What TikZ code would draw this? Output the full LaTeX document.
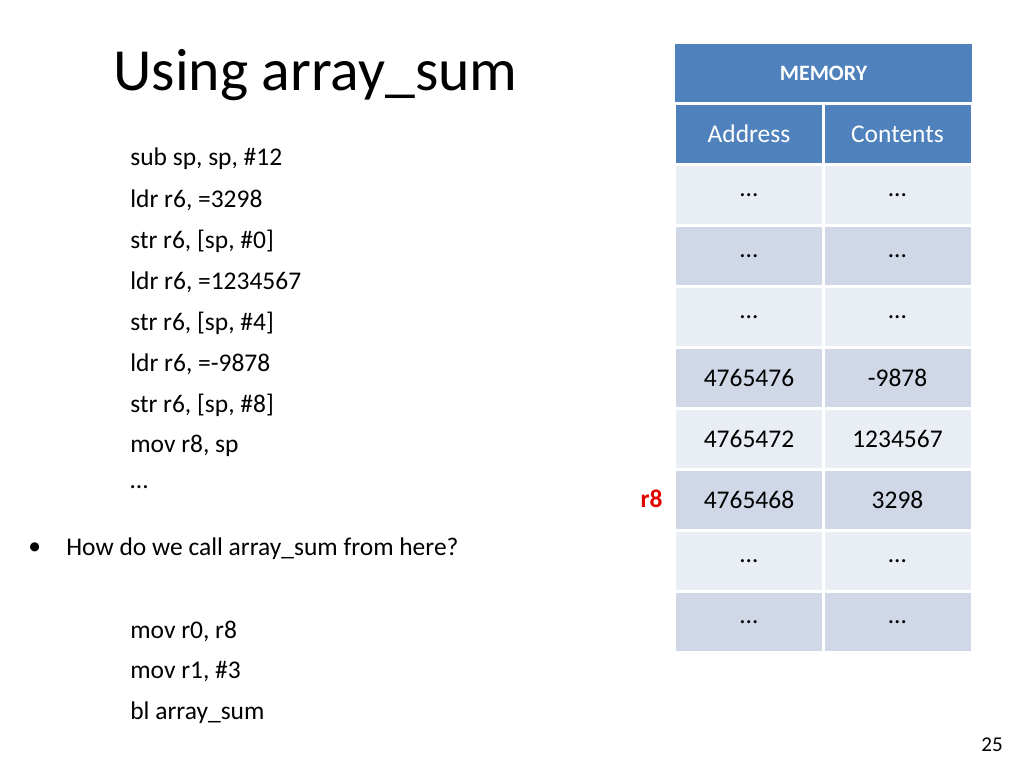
\documentclass[tikz,border=0pt]{standalone}
\usepackage{fontspec}
\setmainfont{Carlito}
\definecolor{hdblue}{HTML}{4F81BD}
\definecolor{rowa}{HTML}{E9EDF4}
\definecolor{rowb}{HTML}{D0D8E8}
\definecolor{regred}{HTML}{E00000}
\tikzset{
  code/.style={anchor=west, font=\fontsize{14.5}{16}\selectfont, inner sep=0pt},
  cell/.style={minimum width=146\unitx, minimum height=58\unitx, inner sep=0pt,
    font=\fontsize{14.5}{16}\selectfont}
}
\newlength{\unitx}
\setlength{\unitx}{0.02cm}
\begin{document}
\begin{tikzpicture}[x=0.02cm, y=-0.02cm]
    % Frame
    \useasboundingbox (0,0) rectangle (1024,768);
    \node[anchor=west, inner sep=0pt, font=\fontsize{34}{40}\selectfont] (title) at (113,75) {Using array\_sum};
    % Code listing
    \foreach \txt [count=\i from 0] in {sub sp{,} sp{,} \#12, ldr r6{,} =3298, str r6{,} [sp{,} \#0],
        ldr r6{,} =1234567, str r6{,} [sp{,} \#4], ldr r6{,} =-9878, str r6{,} [sp{,} \#8],
        mov r8{,} sp, \dots}
      \node[code] (c\i) at (130,{159+41*\i}) {\txt};
    \node[code] (bullet) at (28,549) {\textbullet};
    \node[code] (question) at (66,549) {How do we call array\_sum from here?};
    \node[code] (m0) at (130,631) {mov r0, r8};
    \node[code] (m1) at (130,672) {mov r1, \#3};
    \node[code] (m2) at (130,713) {bl array\_sum};
    % Memory table
    \node[fill=hdblue, text=white, minimum width=297\unitx, minimum height=58\unitx, inner sep=0pt,
      font=\bfseries\fontsize{12.5}{14}\selectfont] (mem) at (823.5,73) {MEMORY};
    \node[cell, fill=hdblue, text=white] (addr) at (749,134) {Address};
    \node[cell, fill=hdblue, text=white] (cont) at (897.5,134) {Contents};
    \foreach \a/\c [count=\i from 0] in {\dots/\dots, \dots/\dots, \dots/\dots, 4765476/-9878,
        4765472/1234567, 4765468/3298, \dots/\dots, \dots/\dots} {
      \pgfmathsetmacro{\shade}{mod(\i,2)==0 ? "rowa" : "rowb"}
      \node[cell, fill=\shade] (a\i) at (749,{195+61*\i}) {\a};
      \node[cell, fill=\shade] (v\i) at (897.5,{195+61*\i}) {\c};
    }
    \node[anchor=east, inner sep=0pt, text=regred, font=\bfseries\fontsize{14.5}{16}\selectfont] (r8) at (663,499) {r8};
    \node[inner sep=0pt, font=\fontsize{12}{14}\selectfont] (page) at (992,745) {25};
\end{tikzpicture}
\end{document}
